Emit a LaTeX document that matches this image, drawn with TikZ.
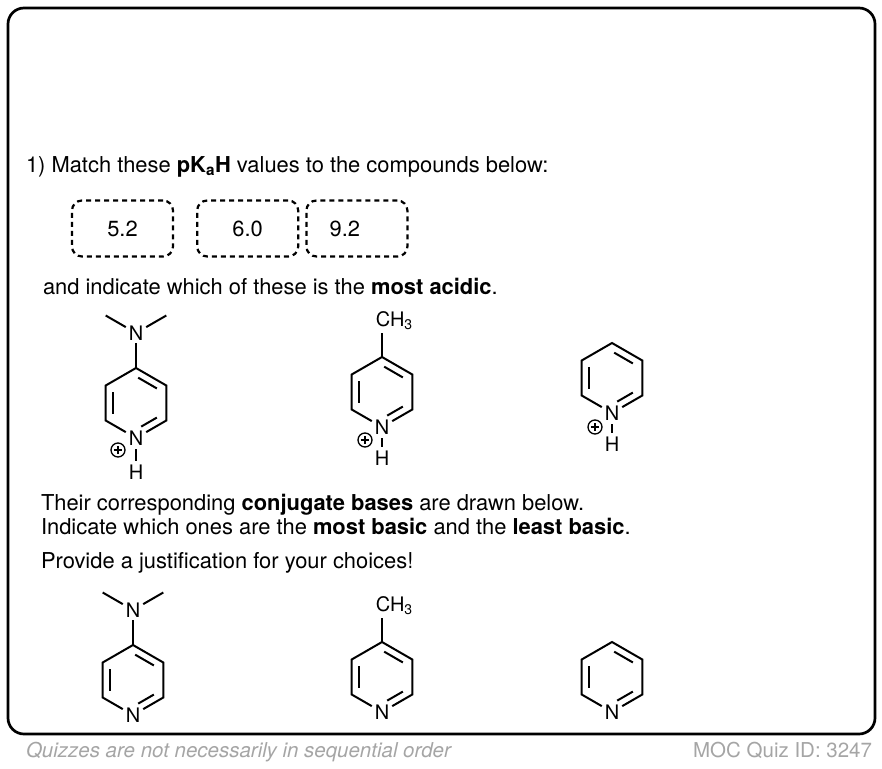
\documentclass[tikz,border=0pt]{standalone}
\usepackage{fontspec}
\setmainfont{TeX Gyre Heros}
\usetikzlibrary{calc,positioning}
\definecolor{footgray}{RGB}{165,165,165}

\newcommand{\pyring}[3]{%
  \coordinate (#1c) at (#2,#3);
  \node[atom] (#11) at ($(#1c)+(0,35)$) {N};
  \coordinate (#12) at ($(#1c)+(30.31,17.5)$);
  \coordinate (#13) at ($(#1c)+(30.31,-17.5)$);
  \coordinate (#14) at ($(#1c)+(0,-35)$);
  \coordinate (#15) at ($(#1c)+(-30.31,-17.5)$);
  \coordinate (#16) at ($(#1c)+(-30.31,17.5)$);
  \draw (#11) -- (#12) -- (#13) -- (#14) -- (#15) -- (#16) -- (#11);
  \draw[inner] ($(#1c)!0.76!(#13)$) -- ($(#1c)!0.76!(#14)$);
  \draw[inner] ($(#1c)!0.76!(#15)$) -- ($(#1c)!0.76!(#16)$);
  \draw[inner,shorten <=6pt] ($(#1c)!0.76!(#11)$) -- ($(#1c)!0.76!(#12)$);
}

\begin{document}
\begin{tikzpicture}[x=1pt,y=-1pt,line width=2pt,
    qtext/.style={anchor=base west,inner sep=0pt,font=\fontsize{21.9}{26}\selectfont},
    foot/.style={inner sep=0pt,text=footgray,font=\fontsize{20.5}{24}\selectfont},
    valbox/.style={draw,line width=2.2pt,dash pattern=on 5pt off 4pt,rounded corners=10pt,
      minimum width=101pt,minimum height=56pt,inner sep=0pt,font=\fontsize{21.9}{26}\selectfont},
    atom/.style={inner sep=2pt,font=\fontsize{20}{20}\selectfont},
    charge/.style={circle,draw,line width=1.3pt,minimum size=14pt,inner sep=0pt,
      path picture={\draw[line width=1.3pt] (path picture bounding box.center) +(-4.2pt,0) -- +(4.2pt,0)
        (path picture bounding box.center) +(0,-4.2pt) -- +(0,4.2pt);}},
    inner/.style={shorten <=2.5pt,shorten >=2.5pt}]
  \useasboundingbox (0,0) rectangle (882,768);
  \draw[line width=2.7pt,rounded corners=16pt] (8,8) rectangle (875,734);

  \node[qtext] (t1) at (25,172.5) {1) Match these \textbf{pK\textsubscript{a}H} values to the compounds below:};
  \node[valbox] (v52) at (122.5,228.5) {5.2};
  \node[valbox,right=22pt of v52] (v60) {6.0};
  \node[valbox,right=6pt of v60] (v92) {9.2\hspace*{24pt}};
  \node[qtext] (t2) at (42,294.5) {and indicate which of these is the \textbf{most acidic}.};

  % protonated
  \pyring{a}{136}{403}
  \node[atom] (aN) at ($(a4)+(0,-35)$) {N};
  \coordinate (aMe1) at ($(aN)+(-30.31,-17.5)$);
  \coordinate (aMe2) at ($(aN)+(30.31,-17.5)$);
  \draw (aN) -- (aMe1);
  \draw (aN) -- (aMe2);
  \draw (aN) -- (a4);
  \node[atom] (aH) at ($(a1)+(0,34)$) {H};
  \draw[shorten <=1pt,shorten >=1pt] (a1) -- (aH);
  \node[charge] (aplus) at ($(a1)+(-18,12)$) {};

  \pyring{b}{382}{392}
  \node[atom,anchor=west,inner xsep=0pt] (bMe) at ($(b4)+(-7.2,-36)$) {CH\textsubscript{3}};
  \draw (b4) -- (b4 |- bMe.south);
  \node[atom] (bH) at ($(b1)+(0,31)$) {H};
  \draw[shorten <=1pt,shorten >=1pt] (b1) -- (bH);
  \node[charge] (bplus) at ($(b1)+(-17,13)$) {};

  \pyring{c}{612}{378}
  \node[atom] (cH) at ($(c1)+(0,31)$) {H};
  \draw[shorten <=1pt,shorten >=1pt] (c1) -- (cH);
  \node[charge] (cplus) at ($(c1)+(-17,14)$) {};

  \node[qtext] (t3) at (40,510) {Their corresponding \textbf{conjugate bases} are drawn below.};
  \node[qtext] (t4) at (40,534) {Indicate which ones are the \textbf{most basic} and the \textbf{least basic}.};
  \node[qtext] (t5) at (40,568) {Provide a justification for your choices!};

  % bases
  \pyring{d}{133}{680}
  \node[atom] (dN) at ($(d4)+(0,-35)$) {N};
  \coordinate (dMe1) at ($(dN)+(-30.31,-17.5)$);
  \coordinate (dMe2) at ($(dN)+(30.31,-17.5)$);
  \draw (dN) -- (dMe1);
  \draw (dN) -- (dMe2);
  \draw (dN) -- (d4);

  \pyring{e}{382}{677}
  \node[atom,anchor=west,inner xsep=0pt] (eMe) at ($(e4)+(-7.2,-36)$) {CH\textsubscript{3}};
  \draw (e4) -- (e4 |- eMe.south);

  \pyring{f}{612}{677}

  \node[foot,anchor=base west] (quiz) at (25,757) {\itshape Quizzes are not necessarily in sequential order};
  \node[foot,anchor=base east] (quizid) at (873,757) {MOC Quiz ID: 3247};
\end{tikzpicture}
\end{document}
